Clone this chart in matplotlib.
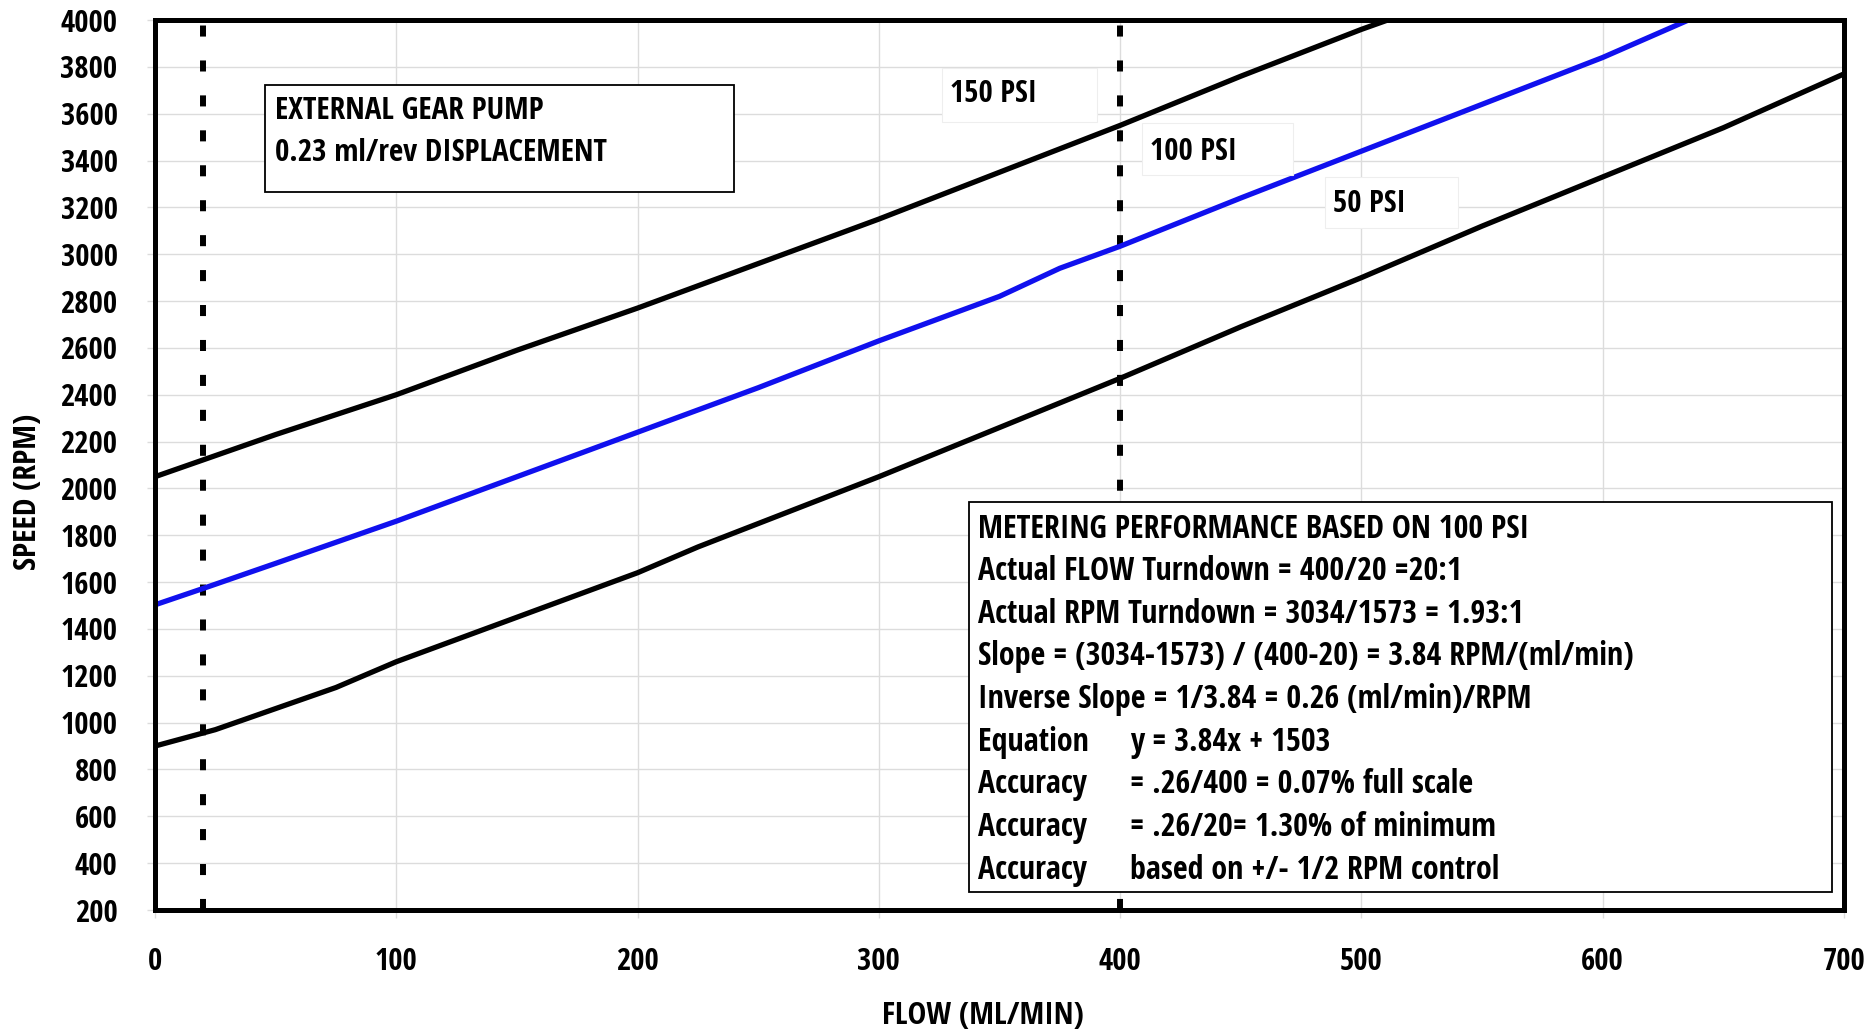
import matplotlib
matplotlib.use("Agg")
import matplotlib.pyplot as plt
from matplotlib import font_manager
from matplotlib.patches import Rectangle

# ---------------------------------------------------------------------------
# Data
# ---------------------------------------------------------------------------
flow_150 = [0, 50, 100, 150, 200, 250, 300, 350, 400, 450, 500, 530]
rpm_150  = [2050, 2230, 2400, 2590, 2770, 2960, 3150, 3350, 3550, 3760, 3960, 4070]

flow_100 = [0, 20, 50, 100, 150, 200, 250, 300, 350, 375, 400, 450, 500, 550, 600, 640]
rpm_100  = [1503, 1573, 1680, 1860, 2050, 2240, 2430, 2630, 2820, 2940, 3034, 3240, 3440, 3640, 3840, 4020]

flow_50 = [0, 25, 50, 75, 100, 150, 200, 225, 300, 350, 400, 450, 500, 550, 600, 650, 700]
rpm_50  = [900, 970, 1060, 1150, 1260, 1450, 1640, 1750, 2050, 2260, 2470, 2690, 2900, 3120, 3330, 3540, 3770]

flow_limits = [20, 400]          # min / max metered flow (dashed markers)

psi_labels = ["150 PSI", "100 PSI", "50 PSI"]

info_lines = [
    ("METERING PERFORMANCE BASED ON 100 PSI", ""),
    ("Actual FLOW Turndown = 400/20 =20:1", ""),
    ("Actual RPM Turndown = 3034/1573 = 1.93:1", ""),
    ("Slope = (3034-1573) / (400-20) = 3.84 RPM/(ml/min)", ""),
    ("Inverse Slope = 1/3.84 = 0.26 (ml/min)/RPM", ""),
    ("Equation", "y = 3.84x + 1503"),
    ("Accuracy", "= .26/400 = 0.07% full scale"),
    ("Accuracy", "= .26/20= 1.30% of minimum"),
    ("Accuracy", "based on +/- 1/2 RPM control"),
]

# ---------------------------------------------------------------------------
# Font: pick a condensed bold face if one is around
# ---------------------------------------------------------------------------
avail = {}
for f in font_manager.fontManager.ttflist:
    if f.style == "normal" and f.weight >= 600:
        avail.setdefault(f.name, True)
FAM = "DejaVu Sans"
for cand in ["Open Sans Condensed", "Liberation Sans Narrow", "Roboto Condensed",
             "Fira Sans Condensed", "PT Sans Narrow", "Asap Condensed",
             "Archivo Narrow", "DejaVu Sans Condensed"]:
    if cand in avail:
        FAM = cand
        break
plt.rcParams["font.family"] = [FAM, "DejaVu Sans"]
plt.rcParams["font.weight"] = "bold"

fig = plt.figure(figsize=(18.74, 10.32), dpi=100)
renderer = fig.canvas.get_renderer()


def fit(s, target_px):
    # font size that makes string s about target_px wide
    t = fig.text(0, 0, s, fontsize=20, fontweight="bold")
    w = t.get_window_extent(renderer).width
    t.remove()
    return 20 * target_px / w


FS_TICK = fit("4000", 57)
FS_INFO = fit(info_lines[3][0], 657)
FS_LAB = fit("FLOW (ML/MIN)", 201)
FS_BOX = fit("EXTERNAL GEAR PUMP", 268)
FS_PSI = fit("150 PSI", 87)

ax = fig.add_axes([155 / 1874, 1 - 910 / 1032, 1689 / 1874, 890 / 1032])

ax.plot(flow_150, rpm_150, color="black", lw=3.8, zorder=3)
ax.plot(flow_100, rpm_100, color="#1010ee", lw=3.8, zorder=3)
ax.plot(flow_50, rpm_50, color="black", lw=3.8, zorder=3)

for fx in flow_limits:
    ax.axvline(fx, color="black", lw=4.3, dashes=(1.85, 4.0), zorder=2)

ax.set_xlim(0, 700)
ax.set_ylim(200, 4000)
ax.set_xticks(range(0, 701, 100))
ax.set_yticks(range(200, 4001, 200))
ax.grid(True, color="#dcdcdc", lw=1, zorder=0)
ax.tick_params(axis="both", direction="out", length=6, width=1, color="#dcdcdc",
               labelsize=FS_TICK)
ax.tick_params(axis="x", pad=21)
ax.tick_params(axis="y", pad=21)
for s in ax.spines.values():
    s.set_linewidth(3.6)
    s.set_zorder(5)

fig.text(983 / 1874, 1 - 1016 / 1032, "FLOW (ML/MIN)", fontsize=FS_LAB,
         fontweight="bold", ha="center", va="center")
fig.text(28 / 1874, 1 - 492 / 1032, "SPEED (RPM)", fontsize=FS_LAB,
         fontweight="bold", ha="center", va="center", rotation=90)

# pump description box
ax.add_patch(Rectangle((0.0651, 0.807), 0.2777, 0.120, transform=ax.transAxes,
                       facecolor="white", edgecolor="black", lw=1.3, zorder=4))
ax.text(0.071, 0.898, "EXTERNAL GEAR PUMP", transform=ax.transAxes,
        fontsize=FS_BOX, va="center", ha="left", zorder=6)
ax.text(0.071, 0.851, "0.23 ml/rev DISPLACEMENT", transform=ax.transAxes,
        fontsize=FS_BOX, va="center", ha="left", zorder=6)

# pressure labels on white, barely outlined boxes
psi_boxes = [(0.466, 0.8854, 0.0918, 0.0607),
             (0.5844, 0.8258, 0.0894, 0.0584),
             (0.6927, 0.7663, 0.0787, 0.0573)]
psi_text_pos = [(0.4707, 0.917), (0.5891, 0.852), (0.6975, 0.7935)]
for lbl, (bx, by, bw, bh), (tx, ty) in zip(psi_labels, psi_boxes, psi_text_pos):
    ax.add_patch(Rectangle((bx, by), bw, bh, transform=ax.transAxes,
                           facecolor="white", edgecolor="#eeeeee", lw=0.8, zorder=4))
    ax.text(tx, ty, lbl, transform=ax.transAxes, fontsize=FS_PSI,
            va="center", ha="left", zorder=6)

# metering performance box
ax.add_patch(Rectangle((0.482, 0.020), 0.511, 0.438, transform=ax.transAxes,
                       facecolor="white", edgecolor="black", lw=1.3, zorder=4))
y0, dy = 0.428, 0.0479
for i, (a, b) in enumerate(info_lines):
    yy = y0 - i * dy
    ax.text(0.487, yy, a, transform=ax.transAxes, fontsize=FS_INFO,
            va="center", ha="left", zorder=6)
    if b:
        ax.text(0.577, yy, b, transform=ax.transAxes, fontsize=FS_INFO,
                va="center", ha="left", zorder=6)

fig.savefig("out.png", dpi=100, facecolor="white")
